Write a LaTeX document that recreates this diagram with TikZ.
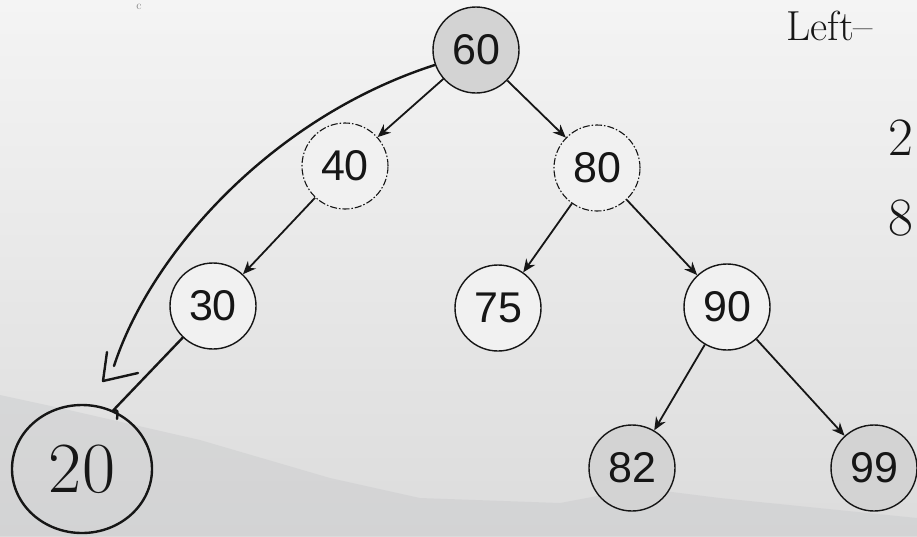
\documentclass[tikz,border=0pt]{standalone}
\usepackage{fontspec}
\setmainfont{Liberation Sans}
\newfontfamily\handfont{Latin Modern Roman}
\usetikzlibrary{arrows.meta,shapes.geometric}
\definecolor{bgtop}{HTML}{F4F4F4}
\definecolor{bgbot}{HTML}{DCDCDC}
\definecolor{hill}{HTML}{C9CACC}
\definecolor{dark}{HTML}{D3D3D3}
\definecolor{light}{HTML}{F1F1F1}
\definecolor{ink}{HTML}{161616}
\begin{document}
\begin{tikzpicture}[x=1pt,y=-1pt,
  tn/.style={circle, draw=ink, line width=1.4pt, minimum size=86pt, inner sep=0pt,
             font=\fontsize{43}{45}\selectfont, text=ink, fill=#1},
  tn/.default=light,
  dashnode/.style={tn, dash pattern=on 7pt off 2pt on 1.5pt off 2pt, line width=1.1pt},
  edge/.style={draw=ink, line width=1.8pt, -{Stealth[length=13pt,width=11pt]}},
  handline/.style={draw=ink, line width=2.4pt, line cap=round, line join=round},
  handtext/.style={text=ink, font=\handfont\fontsize{42}{44}\selectfont},
  handdigit/.style={text=ink, font=\handfont\fontsize{54}{56}\selectfont}
]
\useasboundingbox (0,0) rectangle (917,536);
\clip (0,0) rectangle (917,536);
\shade[top color=bgtop, bottom color=bgbot] (0,0) rectangle (917,536);
\fill[hill, opacity=0.45] (0,395) -- (60,408) -- (200,440) -- (330,478) -- (420,498)
  -- (560,503) -- (640,488) -- (720,498) -- (917,518) -- (917,536) -- (0,536) -- cycle;

% tree nodes
\node[tn=dark] (n60) at (476,50) {60};
\node[dashnode] (n40) at (345,166) {40};
\node[dashnode] (n80) at (597,168) {80};
\node[tn] (n30) at (213,306) {30};
\node[tn] (n75) at (498,308) {75};
\node[tn] (n90) at (727,307) {90};
\node[tn=dark] (n82) at (632,468) {82};
\node[tn=dark] (n99) at (874,468) {99};

% handwritten node
\node[ellipse, draw=ink, line width=2.4pt, minimum width=140pt, minimum height=128pt,
      inner sep=0pt, text=ink, font=\handfont\fontsize{72}{72}\selectfont] (n20) at (82,469) {20};

% edges
\draw[edge] (n60) -- (n40);
\draw[edge] (n60) -- (n80);
\draw[edge] (n40) -- (n30);
\draw[edge] (n80) -- (n75);
\draw[edge] (n80) -- (n90);
\draw[edge] (n90) -- (n82);
\draw[edge] (n90) -- (n99);

% handwritten connectors
\coordinate (hk) at (117,419);
\draw[handline] (n30) -- (n20.62) .. controls (118,410) .. (hk);
\coordinate (c20) at (114,366);
\coordinate (a1) at (107,352);
\coordinate (a2) at (103,381);
\coordinate (a3) at (138,373);
\draw[handline] (n60.200) .. controls (270,118) and (150,255) .. (c20);
\draw[handline] (a1) -- (a2) -- (a3);

% handwritten texts at the edges
\node[handtext, anchor=base west, inner sep=0pt] (left) at (786,40) {Left–};
\node[handdigit, anchor=west, inner sep=0pt] (two) at (888,138) {2};
\node[handdigit, anchor=west, inner sep=0pt] (eight) at (888,218) {8};
\node[text=gray, inner sep=0pt, font=\handfont\fontsize{12}{12}\selectfont] (cmark) at (139,7) {c};
\end{tikzpicture}
\end{document}
